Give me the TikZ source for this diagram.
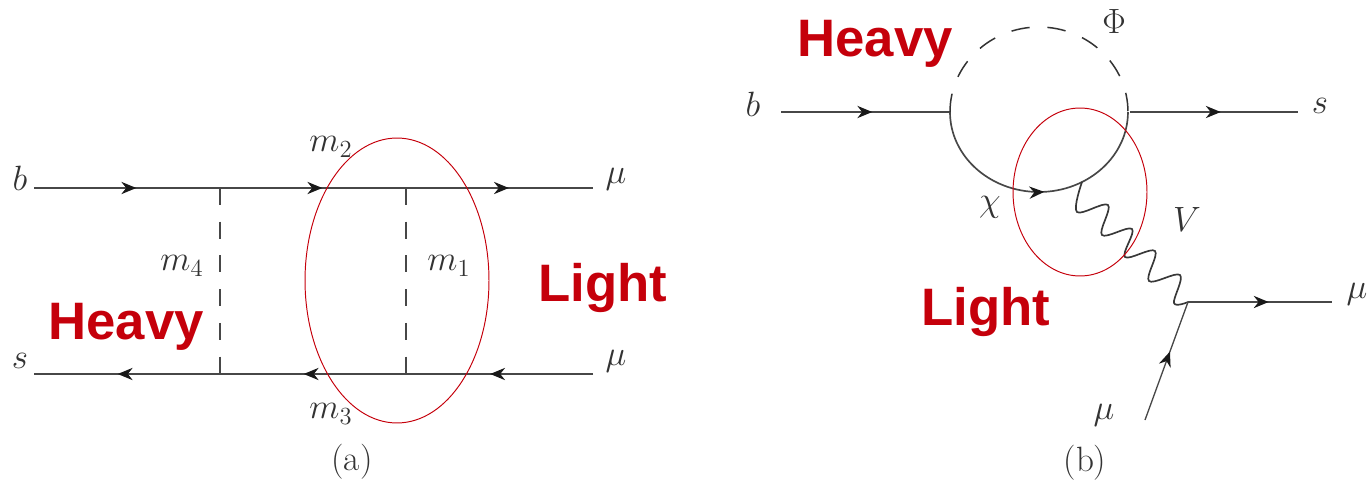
\documentclass[tikz,border=0pt]{standalone}
\usepackage{fix-cm}
\usepackage{fontspec}
\newfontfamily\tagfont{Liberation Sans}
\usepackage{tikz}
\usetikzlibrary{arrows.meta, decorations.markings, shapes.geometric}

\definecolor{tagred}{RGB}{197,0,11}

\begin{document}
\begin{tikzpicture}[
  x=0.02cm, y=-0.02cm,
  fermion/.style = {draw=black!72, line width=0.75pt, postaction={decorate},
                    decoration={markings, mark=at position #1 with
                      {\arrow{Stealth[length=8.5pt,width=7pt,black!90]}}}},
  fermion/.default = 0.55,
  scalar/.style  = {draw=black!72, line width=0.75pt, dash pattern=on 9.6pt off 9.6pt},
  loopdash/.style= {draw=black!80, line width=0.85pt, dash pattern=on 10.5pt off 10.15pt},
  vector/.style  = {draw=black!78, line width=0.95pt},
  region/.style  = {draw=tagred, line width=0.55pt, ellipse, inner sep=0pt},
  lbl/.style     = {font=\fontsize{20}{22}\selectfont, text=black!80, inner sep=0pt},
  tag/.style     = {font=\tagfont\bfseries\fontsize{30}{34}\selectfont, text=tagred, inner sep=0pt},
]
\useasboundingbox (0,0) rectangle (1369,480);

%% ── Box diagram (a) ───────────────────────────────────────────────
\coordinate (bin)  at (34,188);
\coordinate (v4t)  at (220,188);
\coordinate (v1t)  at (406,188);
\coordinate (muo)  at (593,188);
\coordinate (sout) at (34,374);
\coordinate (v4b)  at (220,374);
\coordinate (v1b)  at (406,374);
\coordinate (mui)  at (593,374);

\draw[fermion] (bin) -- (v4t);
\draw[fermion] (v4t) -- (v1t);
\draw[fermion] (v1t) -- (muo);
\draw[fermion] (v4b) -- (sout);
\draw[fermion] (v1b) -- (v4b);
\draw[fermion] (mui) -- (v1b);
\draw[scalar]  (v4t) -- (v4b);
\draw[scalar]  (v1t) -- (v1b);

\node[lbl] (lb)  at (20,178)  {$b$};
\node[lbl] (ls)  at (20,361)  {$s$};
\node[lbl] (lmu) at (616,179) {$\mu$};
\node[lbl] (lmv) at (616,361) {$\mu$};
\node[lbl] (m2)  at (331,147) {$m_2$};
\node[lbl] (m3)  at (331,414) {$m_3$};
\node[lbl] (m4)  at (182,266) {$m_4$};
\node[lbl] (m1)  at (449,266) {$m_1$};
\node[lbl] (capa) at (352,462) {(a)};

\node[region, minimum width=3.68cm, minimum height=5.7cm] (ovala) at (397,280.5) {};
\node[tag] (heavya) at (126,327) {Heavy};
\node[tag] (lighta) at (603,288) {Light};

%% ── Penguin diagram (b) ───────────────────────────────────────────
\coordinate (binb) at (781,112);
\coordinate (vl)   at (950,112);
\coordinate (vr)   at (1128,112);
\coordinate (sob)  at (1130,112);
\coordinate (sen)  at (1298,112);
\coordinate (vw)   at (1082,182);
\coordinate (vy)   at (1188,302);
\coordinate (muob) at (1332,302);
\coordinate (muib) at (1145,420);

\draw[fermion=0.54] (binb) -- (vl);
\draw[fermion=0.54] (sob) -- (sen);
\draw[fermion=0.52, line width=0.95pt] (vl) arc[start angle=180, end angle=360, x radius=1.78cm, y radius=1.6cm];
\draw[loopdash] (vl) arc[start angle=180, end angle=0, x radius=1.78cm, y radius=1.7cm];
\draw[vector] plot[smooth, tension=0.6] coordinates {(vw) (1077,212) (1108,205) (1102,235)
  (1132,229) (1125,257) (1155,251) (1149,281) (1180,275) (1174,303) (vy)};
\draw[fermion=0.56] (vy) -- (muob);
\draw[fermion=0.58] (muib) -- (vy);

\node[lbl] (lbb)  at (753,104)  {$b$};
\node[lbl] (phi)  at (1114,21)  {$\Phi$};
\node[lbl] (lsb)  at (1320,106) {$s$};
\node[lbl] (chi)  at (990,207)  {$\chi$};
\node[lbl] (lv)   at (1187,219) {$V$};
\node[lbl] (lmuo) at (1357,294) {$\mu$};
\node[lbl] (lmui) at (1104,415) {$\mu$};
\node[lbl] (capb) at (1085,463) {(b)};

\node[region, minimum width=2.68cm, minimum height=3.36cm] (ovalb) at (1080,192) {};
\node[tag] (heavyb) at (875,44)  {Heavy};
\node[tag] (lightb) at (986,312) {Light};

\end{tikzpicture}
\end{document}
